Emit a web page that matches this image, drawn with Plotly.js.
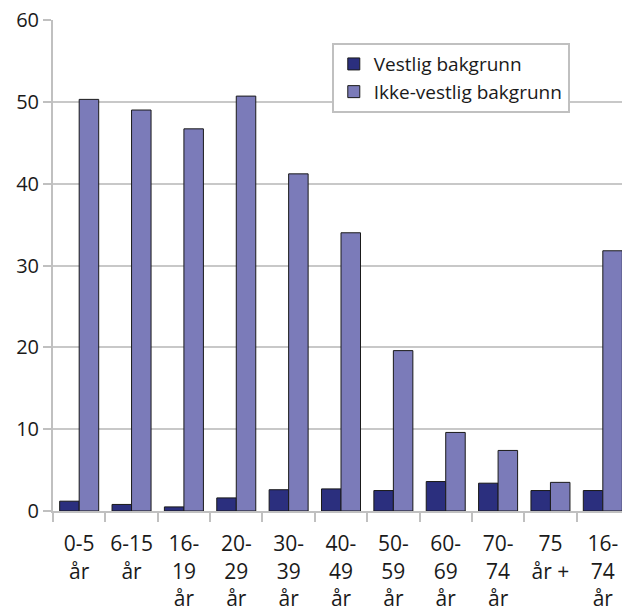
<!DOCTYPE html>
<html><head><meta charset="utf-8">
<script src="https://cdn.plot.ly/plotly-3.0.1.min.js"></script>
<style>html,body{margin:0;padding:0;overflow:hidden;background:#fff}</style>
</head><body><div id="chart"></div>
<script>
const categories = ["0-5<br>år","6-15<br>år","16-<br>19<br>år","20-<br>29<br>år","30-<br>39<br>år","40-<br>49<br>år","50-<br>59<br>år","60-<br>69<br>år","70-<br>74<br>år","75<br>år +","16-<br>74<br>år"];
const vestlig = [1.2, 0.8, 0.5, 1.6, 2.6, 2.7, 2.5, 3.6, 3.4, 2.5, 2.5];
const ikkeVestlig = [50.3, 49.0, 46.7, 50.7, 41.2, 34.0, 19.6, 9.6, 7.4, 3.5, 31.8];
const seriesNames = ["Vestlig bakgrunn", "Ikke-vestlig bakgrunn"];
const yTicks = [0, 10, 20, 30, 40, 50, 60];

const font = "Open Sans, Noto Sans, sans-serif";
const traces = [
  {type:"bar", name:seriesNames[0], x:categories, y:vestlig,
   marker:{color:"#2b2f7e", line:{color:"#1a1a1a", width:1}}},
  {type:"bar", name:seriesNames[1], x:categories, y:ikkeVestlig,
   marker:{color:"#7b7bb9", line:{color:"#1a1a1a", width:1}}}
];
const layout = {
  width: 629, height: 609,
  margin: {l:53, r:0, t:20, b:98},
  paper_bgcolor:"#fff", plot_bgcolor:"#fff",
  font: {family: font, size: 20, color:"#1a1a1a"},
  barmode: "group", bargap: 0.255, bargroupgap: 0,
  showlegend: true,
  legend: {x:0.484, y:0.953, xanchor:"left", yanchor:"top",
    bordercolor:"#c0c0c0", borderwidth:2, bgcolor:"#fff",
    font:{family:font, size:19, color:"#1a1a1a"}, tracegroupgap:0, itemwidth:30},
  xaxis: {type:"category", tickson:"boundaries", ticks:"outside", ticklen:9,
    tickcolor:"#c0c0c0", tickwidth:2, showline:true, linecolor:"#c0c0c0", linewidth:2,
    showgrid:false, tickfont:{size:21}, tickangle:0, ticklabelstandoff:13,
    range:[-0.5, 10.5], fixedrange:true, automargin:false},
  yaxis: {range:[0,60], tickvals:yTicks, ticks:"outside", ticklen:8, tickcolor:"#c0c0c0",
    tickwidth:2, showline:true, linecolor:"#c0c0c0", linewidth:2, gridcolor:"#c8c8c8",
    gridwidth:2, zeroline:false, tickfont:{size:20}, fixedrange:true}
};
Plotly.newPlot("chart", traces, layout, {displayModeBar:false, staticPlot:true});
</script></body></html>
